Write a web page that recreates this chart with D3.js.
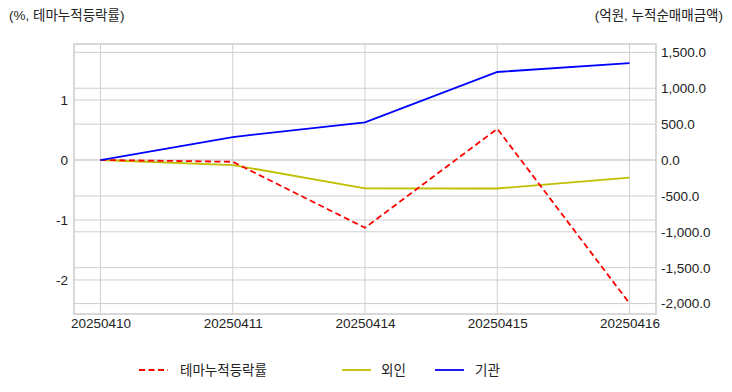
<!DOCTYPE html>
<html><head><meta charset="utf-8">
<script src="https://cdn.jsdelivr.net/npm/d3@7"></script>
<style>
body{margin:0;background:#fff;}
svg text{font-family:"Liberation Sans","Noto Sans CJK KR",sans-serif;fill:#222;}
</style></head>
<body><svg id="c" width="732" height="392"></svg>
<script>
const dates = ["20250410","20250411","20250414","20250415","20250416"];
const themeRate = [0, -0.03, -1.13, 0.52, -2.39];
const foreign = [0, -70, -394, -397, -246];
const institution = [0, 320, 525, 1226, 1351];
const leftTicks = [-2, -1, 0, 1];
const rightTicks = [-2000, -1500, -1000, -500, 0, 500, 1000, 1500];
const seriesNames = ["테마누적등락률", "외인", "기관"];
const leftTitle = "(%, 테마누적등락률)";
const rightTitle = "(억원, 누적순매매금액)";

const svg = d3.select("#c");
const L = 74, R = 656, T = 44, B = 314;
const n = dates.length;
const x2 = d3.scaleLinear().domain([-0.2, n - 1 + 0.2]).range([L, R]);
const yL = d3.scaleLinear().domain([-2.567, 1.933]).range([B, T]);
const yR = d3.scaleLinear().domain([-2145, 1616]).range([B, T]);

const gridColor = "#cfcfcf";
const grid = svg.append("g");
dates.forEach((d, i) => grid.append("line").attr("x1", x2(i)).attr("x2", x2(i)).attr("y1", T).attr("y2", B)
  .attr("stroke", gridColor).attr("stroke-width", 1));
leftTicks.forEach(v => grid.append("line").attr("x1", L).attr("x2", R).attr("y1", yL(v)).attr("y2", yL(v))
  .attr("stroke", gridColor).attr("stroke-width", 1));
rightTicks.forEach(v => grid.append("line").attr("x1", L).attr("x2", R).attr("y1", yR(v)).attr("y2", yR(v))
  .attr("stroke", gridColor).attr("stroke-width", 1));

const axL = svg.append("g").attr("transform", `translate(${L},0)`)
  .call(d3.axisLeft(yL).tickValues(leftTicks).tickSize(0).tickPadding(6).tickFormat(d3.format("d")));
const axR = svg.append("g").attr("transform", `translate(${R},0)`)
  .call(d3.axisRight(yR).tickValues(rightTicks).tickSize(0).tickPadding(5).tickFormat(d3.format(",.1f")));
const axB = svg.append("g").attr("transform", `translate(0,${B})`)
  .call(d3.axisBottom(x2).tickValues(d3.range(n)).tickSize(0).tickPadding(4).tickFormat(i => dates[i]));
[axL, axR, axB].forEach(a => { a.select(".domain").remove(); a.selectAll("text").attr("font-size", "13.5px").style("fill","#222")
  .style("font-family", '"Liberation Sans","Noto Sans CJK KR",sans-serif'); });
axL.selectAll("text").text(function(){ return this.textContent.replace("−","-"); });
axR.selectAll("text").text(function(){ return this.textContent.replace("−","-"); });

svg.append("rect").attr("x", L).attr("y", T).attr("width", R - L).attr("height", B - T)
  .attr("fill", "none").attr("stroke", "#cccccc").attr("stroke-width", 1.5);

const lineL = d3.line().x((d, i) => x2(i)).y(d => yL(d));
const lineR = d3.line().x((d, i) => x2(i)).y(d => yR(d));
svg.append("path").attr("d", lineR(foreign)).attr("fill", "none").attr("stroke", "#bfbf00").attr("stroke-width", 1.8);
svg.append("path").attr("d", lineL(themeRate)).attr("fill", "none").attr("stroke", "#ff0000").attr("stroke-width", 1.8).attr("stroke-dasharray", "6,3.5");
svg.append("path").attr("d", lineR(institution)).attr("fill", "none").attr("stroke", "#0000ff").attr("stroke-width", 1.8);

svg.append("text").attr("x", 9).attr("y", 19.5).attr("font-size", "13.5px").text(leftTitle);
svg.append("text").attr("x", 723).attr("y", 19.5).attr("text-anchor", "end").attr("font-size", "13.5px").text(rightTitle);

const leg = [
  {x: 139, tx: 180, c: "#ff0000", dash: "6,3.5", name: seriesNames[0]},
  {x: 342, tx: 381, c: "#bfbf00", dash: null, name: seriesNames[1]},
  {x: 435, tx: 475, c: "#0000ff", dash: null, name: seriesNames[2]}
];
leg.forEach(l => {
  svg.append("line").attr("x1", l.x).attr("x2", l.x + 29).attr("y1", 370).attr("y2", 370)
    .attr("stroke", l.c).attr("stroke-width", 1.8).attr("stroke-dasharray", l.dash);
  svg.append("text").attr("x", l.tx).attr("y", 375).attr("font-size", "13.5px").text(l.name);
});
</script></body></html>
